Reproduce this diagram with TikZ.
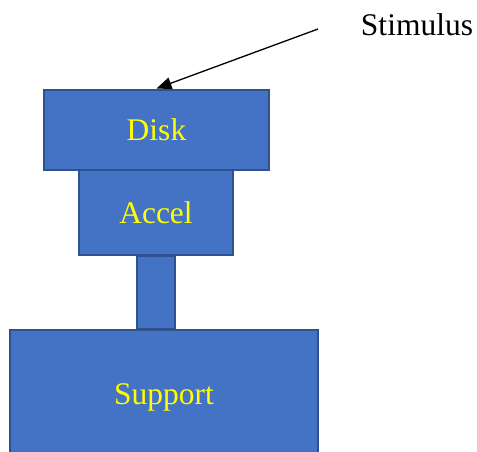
\documentclass[tikz,border=0pt]{standalone}
\usepackage{fontspec}
\setmainfont{Liberation Serif}
\usetikzlibrary{arrows.meta}
\definecolor{boxfill}{HTML}{4472C4}
\definecolor{boxline}{HTML}{2F528F}
\definecolor{txtyellow}{RGB}{255,255,0}
\begin{document}
\begin{tikzpicture}[x=1pt,y=-1pt,
  part/.style={draw=boxline,fill=boxfill,line width=2pt,inner sep=0pt,
    text=txtyellow,font=\fontsize{31.5}{37}\selectfont},
  lbl/.style={font=\fontsize{31.5}{37}\selectfont,inner sep=0pt}]
\useasboundingbox (0,0) rectangle (477,451);
\clip (0,0) rectangle (477,451);
\node[part,minimum width=225pt,minimum height=80pt] (disk) at (156.5,129.5) {Disk};
\node[part,minimum width=154pt,minimum height=85pt] (accel) at (156,212.5) {Accel};
\node[part,minimum width=38pt,minimum height=73pt] (stem) at (156,292.5) {};
\node[part,minimum width=308pt,minimum height=134pt] (support) at (164,397) {Support};
\node[lbl,anchor=base] (stim) at (417,35) {Stimulus};
\coordinate (start) at (318,29);
\draw[line width=1.3pt,-{Triangle[length=15pt,width=12pt]}] (start) -- (disk.north);
\end{tikzpicture}
\end{document}
